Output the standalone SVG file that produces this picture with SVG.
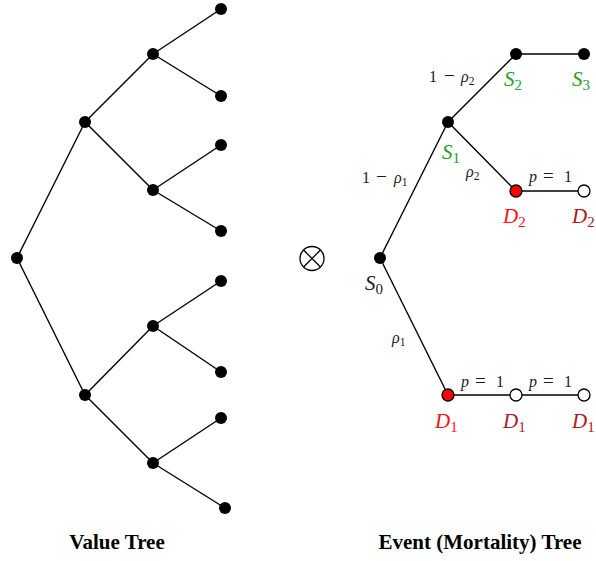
<svg xmlns="http://www.w3.org/2000/svg" width="596" height="561" viewBox="0 0 596 561">
<style>
.e{stroke:#000;stroke-width:1.4;fill:none}
.n{fill:#000}
.r{fill:#ff0000;stroke:#000;stroke-width:1.3}
.o{fill:#fff;stroke:#000;stroke-width:1.3}
.m{font-family:"Liberation Serif","Times New Roman",serif;fill:#1a1a1a}
.lbl{font-size:16px}
.op{font-size:19px}
.big{font-size:21px}
.i{font-style:italic}
.sb{font-size:11.5px}
.sbb{font-size:15px}
.g{fill:#22a022}
.rd{fill:#ff1010}
.dr{fill:#aa1c1c}
.t{font-family:"Liberation Serif","Times New Roman",serif;font-weight:bold;font-size:21px;fill:#000;text-anchor:middle}
</style>
<rect width="596" height="561" fill="#fff"/>
<g id="connectors">
<line class="e" x1="17" y1="258" x2="85" y2="122"/>
<line class="e" x1="17" y1="258" x2="85" y2="395"/>
<line class="e" x1="85" y1="122" x2="153" y2="54"/>
<line class="e" x1="85" y1="122" x2="153" y2="190"/>
<line class="e" x1="85" y1="395" x2="153" y2="326"/>
<line class="e" x1="85" y1="395" x2="153" y2="463"/>
<line class="e" x1="153" y1="54" x2="221" y2="9"/>
<line class="e" x1="153" y1="54" x2="221" y2="96"/>
<line class="e" x1="153" y1="190" x2="221" y2="145"/>
<line class="e" x1="153" y1="190" x2="221" y2="231"/>
<line class="e" x1="153" y1="326" x2="221" y2="281"/>
<line class="e" x1="153" y1="326" x2="221" y2="372"/>
<line class="e" x1="153" y1="463" x2="221" y2="418"/>
<line class="e" x1="153" y1="463" x2="225" y2="508"/>
<line class="e" x1="380" y1="258" x2="448" y2="122"/>
<line class="e" x1="380" y1="258" x2="448" y2="395"/>
<line class="e" x1="448" y1="122" x2="516" y2="54"/>
<line class="e" x1="448" y1="122" x2="516" y2="191"/>
<line class="e" x1="516" y1="54" x2="584" y2="54"/>
<line class="e" x1="516" y1="191" x2="584" y2="191"/>
<line class="e" x1="448" y1="395" x2="584" y2="395"/>
</g>
<g id="value-tree">
<circle id="v0" class="n" cx="17" cy="258" r="6"/>
<circle id="v1" class="n" cx="85" cy="122" r="6"/>
<circle id="v2" class="n" cx="85" cy="395" r="6"/>
<circle id="v3" class="n" cx="153" cy="54" r="6"/>
<circle id="v4" class="n" cx="153" cy="190" r="6"/>
<circle id="v5" class="n" cx="153" cy="326" r="6"/>
<circle id="v6" class="n" cx="153" cy="463" r="6"/>
<circle id="v7" class="n" cx="221" cy="9" r="6"/>
<circle id="v8" class="n" cx="221" cy="96" r="6"/>
<circle id="v9" class="n" cx="221" cy="145" r="6"/>
<circle id="v10" class="n" cx="221" cy="231" r="6"/>
<circle id="v11" class="n" cx="221" cy="281" r="6"/>
<circle id="v12" class="n" cx="221" cy="372" r="6"/>
<circle id="v13" class="n" cx="221" cy="418" r="6"/>
<circle id="v14" class="n" cx="225" cy="508" r="6"/>
</g>
<g id="otimes">
<circle cx="312" cy="258.5" r="12" fill="none" stroke="#000" stroke-width="1.3"/>
<line x1="303.5" y1="250" x2="320.5" y2="267" stroke="#000" stroke-width="1.3"/>
<line x1="320.5" y1="250" x2="303.5" y2="267" stroke="#000" stroke-width="1.3"/>
</g>
<g id="event-tree">
<g id="S0"><circle class="n" cx="380" cy="258" r="6"/>
<text class="m big" x="365" y="290"><tspan class="i">S</tspan><tspan class="sbb" dy="4">0</tspan></text></g>
<g id="S1"><circle class="n" cx="448" cy="122" r="6"/>
<text class="m big g" x="442" y="159"><tspan class="i">S</tspan><tspan class="sbb" dy="4">1</tspan></text></g>
<g id="S2"><circle class="n" cx="516" cy="54" r="6"/>
<text class="m big g" x="504" y="86"><tspan class="i">S</tspan><tspan class="sbb" dy="4">2</tspan></text></g>
<g id="S3"><circle class="n" cx="584" cy="54" r="6"/>
<text class="m big g" x="572" y="86"><tspan class="i">S</tspan><tspan class="sbb" dy="4">3</tspan></text></g>
<g id="D2a"><circle class="r" cx="516" cy="191" r="6"/>
<text class="m big rd" x="503" y="223"><tspan class="i">D</tspan><tspan class="sbb" dy="4">2</tspan></text></g>
<g id="D2b"><circle class="o" cx="584" cy="191" r="6"/>
<text class="m big dr" x="572" y="223"><tspan class="i">D</tspan><tspan class="sbb" dy="4">2</tspan></text></g>
<g id="D1a"><circle class="r" cx="448" cy="395" r="6"/>
<text class="m big rd" x="435" y="428"><tspan class="i">D</tspan><tspan class="sbb" dy="4">1</tspan></text></g>
<g id="D1b"><circle class="o" cx="516" cy="395" r="6"/>
<text class="m big dr" x="503" y="428"><tspan class="i">D</tspan><tspan class="sbb" dy="4">1</tspan></text></g>
<g id="D1c"><circle class="o" cx="584" cy="395" r="6"/>
<text class="m big dr" x="572" y="428"><tspan class="i">D</tspan><tspan class="sbb" dy="4">1</tspan></text></g>
</g>
<g id="edge-labels">
<text class="m lbl" y="82"><tspan x="429">1</tspan><tspan x="444" class="op">−</tspan><tspan x="461" class="i">ρ</tspan><tspan class="sb" dy="3">2</tspan></text>
<text class="m lbl" y="183"><tspan x="362">1</tspan><tspan x="376" class="op">−</tspan><tspan x="394" class="i">ρ</tspan><tspan class="sb" dy="3">1</tspan></text>
<text class="m lbl" y="177"><tspan x="466" class="i">ρ</tspan><tspan class="sb" dy="3">2</tspan></text>
<text class="m lbl" y="343"><tspan x="392" class="i">ρ</tspan><tspan class="sb" dy="3">1</tspan></text>
<text class="m lbl" y="182"><tspan x="529" class="i">p</tspan><tspan x="543" class="op">=</tspan><tspan x="564">1</tspan></text>
<text class="m lbl" y="387"><tspan x="461" class="i">p</tspan><tspan x="475" class="op">=</tspan><tspan x="496">1</tspan></text>
<text class="m lbl" y="387"><tspan x="529" class="i">p</tspan><tspan x="543" class="op">=</tspan><tspan x="564">1</tspan></text>
</g>
<g id="titles">
<text class="t" x="117" y="549">Value Tree</text>
<text class="t" x="480" y="549">Event (Mortality) Tree</text>
</g>
</svg>
